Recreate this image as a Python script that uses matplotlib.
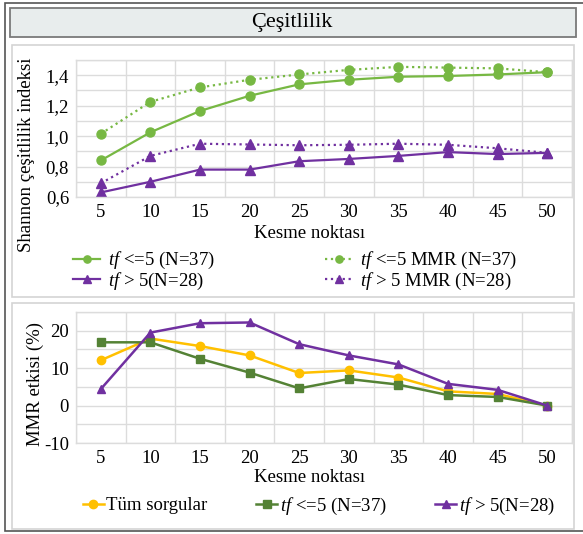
import matplotlib
matplotlib.use("Agg")
import matplotlib.pyplot as plt
from matplotlib.patches import Rectangle
import numpy as np

plt.rcParams['font.family'] = ['Liberation Serif', 'DejaVu Serif']
plt.rcParams['mathtext.fontset'] = 'custom'
plt.rcParams['mathtext.rm'] = 'Liberation Serif'
plt.rcParams['mathtext.it'] = 'Liberation Serif:italic'

cutoffs = [5, 10, 15, 20, 25, 30, 35, 40, 45, 50]

# Top panel: Shannon diversity index
tf_low = [0.84, 1.025, 1.165, 1.265, 1.34, 1.37, 1.39, 1.395, 1.405, 1.42]
tf_low_mmr = [1.015, 1.225, 1.32, 1.37, 1.405, 1.435, 1.455, 1.45, 1.445, 1.42]
tf_high = [0.63, 0.70, 0.78, 0.78, 0.835, 0.85, 0.87, 0.895, 0.882, 0.89]
tf_high_mmr = [0.69, 0.87, 0.95, 0.945, 0.94, 0.943, 0.95, 0.943, 0.92, 0.89]

# Bottom panel: MMR effect (%)
all_queries = [12.1, 17.9, 15.9, 13.4, 8.7, 9.4, 7.5, 3.8, 3.1, 0.0]
mmr_low = [16.9, 16.9, 12.5, 8.8, 4.6, 7.1, 5.6, 2.8, 2.3, 0.0]
mmr_high = [4.4, 19.5, 22.0, 22.2, 16.4, 13.4, 11.0, 5.8, 4.2, 0.0]

W, H = 583, 534
fig = plt.figure(figsize=(W / 100, H / 100), dpi=100)
FS = 13.5

def fx(px):
    return px / W

def fy(py):
    return 1 - py / H

def rect(x0, y0, x1, y1, **kw):
    fig.patches.append(Rectangle((fx(x0), fy(y1)), fx(x1) - fx(x0), fy(y0) - fy(y1),
                                 transform=fig.transFigure, figure=fig, zorder=-5, **kw))

# frames
rect(5, 3, 600, 531, facecolor='white', edgecolor='#555555', linewidth=1.2)
rect(10, 8, 576, 37, facecolor='#e8eded', edgecolor='#7a7a7a', linewidth=1.3)
rect(12, 45, 574, 297, facecolor='white', edgecolor='#d4d4d4', linewidth=1.2)
rect(12, 303, 574, 529, facecolor='white', edgecolor='#d4d4d4', linewidth=1.2)
fig.text(fx(292), fy(23), 'Çeşitlilik', ha='center', va='center', fontsize=16)

x = np.arange(len(cutoffs))
GREEN = '#77b843'
PURPLE = '#7030a0'
DGREEN = '#548235'
YELLOW = '#ffc000'
GRID = '#dcdcdc'

def style_axes(ax, ylim, major, minor, fmt):
    ax.set_xlim(-0.5, len(cutoffs) - 0.5)
    ax.set_ylim(*ylim)
    ax.set_xticks(x)
    ax.set_xticklabels([str(c) for c in cutoffs])
    ax.set_xticks(np.arange(-0.5, len(cutoffs), 1.0), minor=True)
    ax.set_yticks(major)
    ax.set_yticklabels([fmt(v) for v in major])
    ax.set_yticks(minor, minor=True)
    ax.tick_params(which='both', length=0, labelsize=FS, pad=5)
    ax.grid(False)
    ax.grid(True, which='minor', color=GRID, linewidth=1.0)
    ax.yaxis.grid(True, which='major', color=GRID, linewidth=1.0)
    ax.set_axisbelow(True)
    for s in ax.spines.values():
        s.set_color(GRID)
        s.set_linewidth(1.0)

# Top axes
ax1 = fig.add_axes([fx(76), fy(197), fx(572) - fx(76), fy(60) - fy(197)])
l1, = ax1.plot(x, tf_low, '-', color=GREEN, marker='o', markersize=6.5, linewidth=1.6)
l2, = ax1.plot(x, tf_high, '-', color=PURPLE, marker='^', markersize=6.5, linewidth=1.6)
l3, = ax1.plot(x, tf_low_mmr, ':', color=GREEN, marker='o', markersize=6.5, linewidth=1.6)
l4, = ax1.plot(x, tf_high_mmr, ':', color=PURPLE, marker='^', markersize=6.5, linewidth=1.6)
style_axes(ax1, (0.6, 1.5), [0.6, 0.8, 1.0, 1.2, 1.4],
           np.round(np.arange(0.6, 1.51, 0.1), 2), lambda v: f'{v:.1f}'.replace('.', ','))
fig.text(fx(310), fy(233), 'Kesme noktası', ha='center', va='center', fontsize=FS)
fig.text(fx(27), fy(155), 'Shannon çeşitlilik indeksi', ha='center', va='center',
         rotation=90, fontsize=FS)
ax1.legend([l1, l2, l3, l4],
           [r'$\it{tf}$ <=5 (N=37)', r'$\it{tf}$ > 5(N=28)',
            r'$\it{tf}$ <=5 MMR (N=37)', r'$\it{tf}$ > 5 MMR (N=28)'],
           ncol=2, frameon=False, fontsize=FS, loc='center left',
           bbox_to_anchor=(fx(73), fy(271)), bbox_transform=fig.transFigure,
           handlelength=1.45, handletextpad=0.4, columnspacing=5.9, markerscale=0.8,
           labelspacing=-0.05, borderaxespad=0, borderpad=0)

# Bottom axes
ax2 = fig.add_axes([fx(76), fy(443), fx(572) - fx(76), fy(312) - fy(443)])
b1, = ax2.plot(x, all_queries, '-', color=YELLOW, marker='o', markersize=6, linewidth=1.8)
b2, = ax2.plot(x, mmr_low, '-', color=DGREEN, marker='s', markersize=6, linewidth=1.8)
b3, = ax2.plot(x, mmr_high, '-', color=PURPLE, marker='^', markersize=6, linewidth=1.8)
style_axes(ax2, (-10, 25), [-10, 0, 10, 20], np.arange(-10, 26, 5), lambda v: f'{v:d}')
fig.text(fx(310), fy(477), 'Kesme noktası', ha='center', va='center', fontsize=FS)
fig.text(fx(35), fy(384), 'MMR etkisi (%)', ha='center', va='center',
         rotation=90, fontsize=FS)
ax2.legend([b1, b2, b3],
           ['Tüm sorgular', r'$\it{tf}$ <=5 (N=37)', r'$\it{tf}$ > 5(N=28)'],
           ncol=3, frameon=False, fontsize=FS, loc='center left',
           bbox_to_anchor=(fx(83), fy(506)), bbox_transform=fig.transFigure,
           handlelength=1.1, handletextpad=0.15, columnspacing=2.6,
           borderaxespad=0, borderpad=0)

fig.savefig('out.png', dpi=100)
